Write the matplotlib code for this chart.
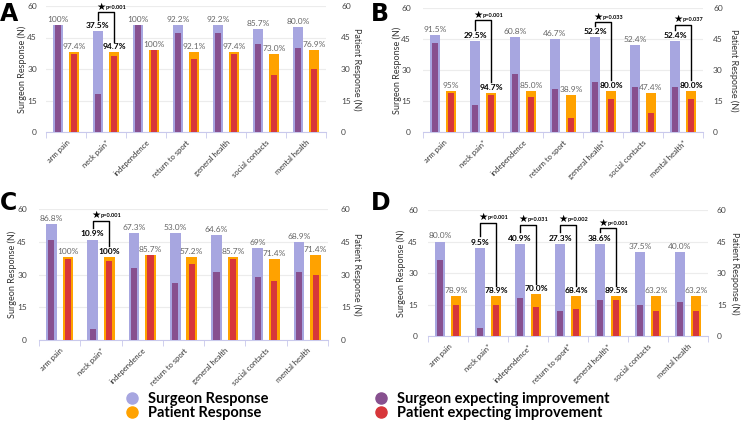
import matplotlib.pyplot as plt
from matplotlib.lines import Line2D

# categories (asterisk marks significant items per panel)
cats_A = ["arm pain", "neck pain*", "independence", "return to sport", "general health", "social contacts", "mental health"]
cats_B = ["arm pain", "neck pain*", "independence", "return to sport", "general health*", "social contacts", "mental health*"]
cats_C = ["arm pain", "neck pain*", "independence", "return to sport", "general health", "social contacts", "mental health"]
cats_D = ["arm pain", "neck pain*", "independence*", "return to sport*", "general health*", "social contacts", "mental health"]

# surgeon response / surgeon expecting improvement (left axis)
surg_A = [51, 48, 51, 51, 51, 49, 50]
surg_imp_A = [51, 18, 51, 47, 47, 42, 40]
surg_B = [47, 44, 46, 45, 46, 42, 44]
surg_imp_B = [43, 13, 28, 21, 24, 22, 22]
surg_C = [53, 46, 49, 49, 48, 42, 45]
surg_imp_C = [46, 5, 33, 26, 31, 29, 31]
surg_D = [45, 42, 44, 44, 44, 40, 40]
surg_imp_D = [36, 4, 18, 12, 17, 15, 16]

# patient response / patient expecting improvement (right axis)
pat_A = [38, 38, 39, 38, 38, 37, 39]
pat_imp_A = [37, 36, 39, 35, 37, 27, 30]
pat_B = [20, 19, 20, 18, 20, 19, 20]
pat_imp_B = [19, 18, 17, 7, 16, 9, 16]
pat_C = [38, 38, 39, 38, 38, 37, 39]
pat_imp_C = [37, 36, 39, 35, 37, 27, 30]
pat_D = [19, 19, 20, 19, 19, 19, 19]
pat_imp_D = [15, 15, 14, 13, 17, 12, 12]

# percentage labels
surg_pct_A = ["100%", "37.5%", "100%", "92.2%", "92.2%", "85.7%", "80.0%"]
pat_pct_A = ["97.4%", "94.7%", "100%", "92.1%", "97.4%", "73.0%", "76.9%"]
surg_pct_B = ["91.5%", "29.5%", "60.8%", "46.7%", "52.2%", "52.4%", "52.4%"]
pat_pct_B = ["95%", "94.7%", "85.0%", "38.9%", "80.0%", "47.4%", "80.0%"]
surg_pct_C = ["86.8%", "10.9%", "67.3%", "53.0%", "64.6%", "69%", "68.9%"]
pat_pct_C = ["100%", "100%", "85.7%", "57.2%", "85.7%", "71.4%", "71.4%"]
surg_pct_D = ["80.0%", "9.5%", "40.9%", "27.3%", "38.6%", "37.5%", "40.0%"]
pat_pct_D = ["78.9%", "78.9%", "70.0%", "68.4%", "89.5%", "63.2%", "63.2%"]

# significance brackets: (category index, p text, bracket top)
sig_A = [(1, "p<0.001", 57)]
sig_B = [(1, "p=0.001", 54), (4, "p=0.033", 53), (6, "p=0.037", 52)]
sig_C = [(1, "p=0.001", 54.5)]
sig_D = [(1, "p<0.001", 54), (2, "p=0.031", 53), (3, "p=0.002", 53), (4, "p<0.001", 51.3)]

C_SURG = "#a7a6e0"
C_SURG_IMP = "#87508f"
C_PAT = "#ffa200"
C_PAT_IMP = "#d7363a"

NARROW = ['Liberation Sans Narrow', 'Lato', 'DejaVu Sans']
plt.rcParams['font.family'] = ['Lato', 'DejaVu Sans']

W, H = 741, 424
fig = plt.figure(figsize=(W / 100, H / 100), dpi=100)


def panel(px, cats, surg, surg_imp, pat, pat_imp, s_pct, p_pct, sig,
          lpad, rpad, ylab_l, ylab_r):
    x0, y0, x1, y1 = px
    rect = [x0 / W, 1 - y1 / H, (x1 - x0) / W, (y1 - y0) / H]
    ax = fig.add_axes(rect)
    ax2 = ax.twinx()
    x = list(range(len(cats)))
    off = 0.2
    xs = [i - off for i in x]
    xp = [i + off for i in x]
    ax.bar(xs, surg, width=0.26, color=C_SURG, zorder=2)
    ax.bar(xs, surg_imp, width=0.15, color=C_SURG_IMP, zorder=3)
    ax2.bar(xp, pat, width=0.26, color=C_PAT, zorder=2)
    ax2.bar(xp, pat_imp, width=0.15, color=C_PAT_IMP, zorder=3)

    sig_idx = [s[0] for s in sig]
    for i in x:
        bold = i in sig_idx
        kw = dict(ha="center", va="bottom", fontsize=6, family=NARROW,
                  color="black" if bold else "#666666",
                  fontweight="bold" if bold else "normal", zorder=5)
        ax.text(xs[i], surg[i] + 1.0, s_pct[i], **kw)
        ax2.text(xp[i], pat[i] + 1.0, p_pct[i], **kw)

    for i, ptxt, top in sig:
        yl = surg[i] + 5.5
        yr = pat[i] + 5
        ax2.plot([xs[i], xs[i], xp[i], xp[i]], [yl, top, top, yr],
                 color="black", lw=1.0, zorder=6, clip_on=False)
        ax2.text(xs[i] + 0.07, top + 0.3, "\u2605", fontsize=7.5, ha="center",
                 va="bottom", zorder=6, clip_on=False, family="DejaVu Sans")
        ax2.text(xs[i] + 0.19, top + 1.2, ptxt, fontsize=4, fontweight="bold",
                 ha="left", va="bottom", zorder=6, clip_on=False, family=NARROW)

    for a in (ax, ax2):
        a.set_ylim(0, 60)
        a.set_yticks([0, 15, 30, 45, 60])
        for s in ("top", "left", "right", "bottom"):
            a.spines[s].set_visible(False)
    ax.tick_params(axis="y", length=0, labelsize=6, labelcolor="#444444", pad=lpad * 0.72)
    ax2.tick_params(axis="y", length=0, labelsize=6, labelcolor="#444444", pad=rpad * 0.72)
    ax.spines["bottom"].set_visible(True)
    ax.spines["bottom"].set_color("#c9c9ec")
    ax.set_xlim(-0.5, len(cats) - 0.5)
    ax.set_xticks(x)
    ax.set_xticklabels(cats, rotation=45, ha="right", rotation_mode="anchor",
                       fontsize=5.5, color="#333333", family=NARROW)
    ax.tick_params(axis="x", which="major", length=0, pad=5)
    ax.set_xticks([i - 0.5 for i in range(len(cats) + 1)], minor=True)
    ax.tick_params(axis="x", which="minor", length=4, color="#c9c9ec")
    ax.grid(axis="y", color="#ececec", lw=0.8, zorder=0)
    ax.set_axisbelow(True)

    yc = 1 - (y0 + y1) / 2 / H
    fig.text(ylab_l / W, yc, "Surgeon Response (N)", rotation=90, ha="center",
             va="center", fontsize=6.5, color="#333333")
    fig.text(ylab_r / W, yc, "Patient Response (N)", rotation=270, ha="center",
             va="center", fontsize=6.5, color="#333333")
    return ax


panel((46, 6, 326, 132), cats_A, surg_A, surg_imp_A, pat_A, pat_imp_A,
      surg_pct_A, pat_pct_A, sig_A, 9, 15, 22, 357)
panel((423, 8, 703, 132), cats_B, surg_B, surg_imp_B, pat_B, pat_imp_B,
      surg_pct_B, pat_pct_B, sig_B, 12, 10, 397, 734)
panel((39, 209, 328, 340), cats_C, surg_C, surg_imp_C, pat_C, pat_imp_C,
      surg_pct_C, pat_pct_C, sig_C, 12, 13, 12, 357)
panel((428, 210, 708, 336), cats_D, surg_D, surg_imp_D, pat_D, pat_imp_D,
      surg_pct_D, pat_pct_D, sig_D, 10, 9, 401, 735)

# panel letters
for lx, ly, letter in [(0, 2, "A"), (371, 2, "B"), (0, 191, "C"), (371, 191, "D")]:
    fig.text(lx / W, 1 - ly / H, letter, fontsize=17, fontweight="bold",
             ha="left", va="top", family="DejaVu Sans")

h1 = [Line2D([], [], marker="o", ls="", ms=8, color=C_SURG),
      Line2D([], [], marker="o", ls="", ms=8, color=C_PAT)]
h2 = [Line2D([], [], marker="o", ls="", ms=8, color=C_SURG_IMP),
      Line2D([], [], marker="o", ls="", ms=8, color=C_PAT_IMP)]
fig.legend(h1, ["Surgeon Response", "Patient Response"], loc="center left",
           bbox_to_anchor=(0.151, 0.043), frameon=False, handletextpad=0.1,
           labelspacing=0.0, prop=dict(size=10.5, weight="bold"), borderaxespad=0)
fig.legend(h2, ["Surgeon expecting improvement", "Patient expecting improvement"],
           loc="center left", bbox_to_anchor=(0.486, 0.043), frameon=False,
           handletextpad=0.1, labelspacing=0.0, prop=dict(size=10.5, weight="bold"),
           borderaxespad=0)

fig.savefig("out.png", dpi=100)
